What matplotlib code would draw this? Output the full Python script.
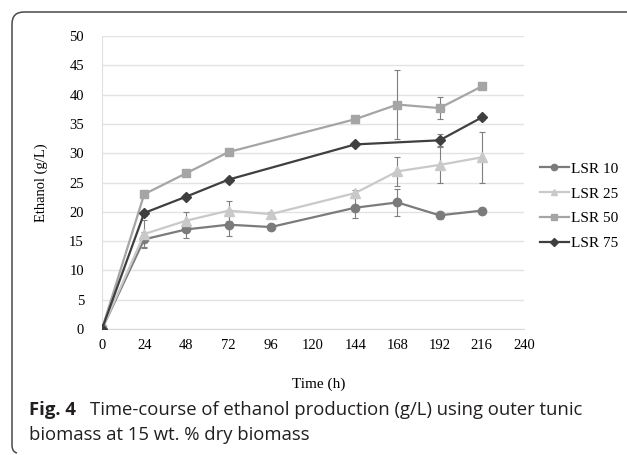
import numpy as np
import matplotlib
matplotlib.use("Agg")
import matplotlib.pyplot as plt
from matplotlib.path import Path
from matplotlib.patches import PathPatch
from matplotlib.transforms import IdentityTransform

# Data
time_h = [0, 24, 48, 72, 96, 144, 168, 192, 216]
nan = np.nan

lsr10 = [0, 15.3, 17.0, 17.8, 17.4, 20.7, 21.6, 19.4, 20.2]
lsr10_err = [0, 1.3, 1.5, 2.0, 0.3, 1.7, 2.3, 0.6, 0.3]

lsr25 = [0, 16.2, 18.5, 20.2, 19.6, 23.2, 26.9, 28.0, 29.3]
lsr25_err = [0, 2.4, 1.5, 1.7, 0.3, 0.5, 2.5, 3.0, 4.3]

lsr50 = [0, 23.0, 26.6, 30.2, nan, 35.8, 38.3, 37.7, 41.4]
lsr50_err = [0, 0.4, 0.4, 0.3, nan, 0.4, 5.9, 1.9, 0.4]

lsr75 = [0, 19.8, 22.6, 25.5, nan, 31.5, nan, 32.2, 36.1]
lsr75_err = [0, 0.5, 0.5, 0.3, nan, 0.3, nan, 1.0, 0.4]

labels = ["LSR 10", "LSR 25", "LSR 50", "LSR 75"]
x_ticks = [0, 24, 48, 72, 96, 120, 144, 168, 192, 216, 240]
y_ticks = [0, 5, 10, 15, 20, 25, 30, 35, 40, 45, 50]

W, H = 627, 455
fig = plt.figure(figsize=(W / 100, H / 100), dpi=100)
ax = fig.add_axes([102 / W, 1 - 329 / H, (524 - 102) / W, (329 - 36) / H])

serif = ["Liberation Serif", "DejaVu Serif"]
fs = 10.5

# colour, marker, size in plot, size in legend
series = [
    (lsr10, lsr10_err, "#7b7b7b", "o", 6, 4.5),
    (lsr25, lsr25_err, "#c9c9c9", "^", 6.5, 4.5),
    (lsr50, lsr50_err, "#a5a5a5", "s", 5.8, 4.2),
    (lsr75, lsr75_err, "#3f3f3f", "D", 4.8, 3.6),
]

t = np.array(time_h, dtype=float)
for (vals, err, col, mk, ms, _), lab in zip(series, labels):
    v = np.array(vals, dtype=float)
    e = np.array(err, dtype=float)
    ok = ~np.isnan(v)
    ax.errorbar(t[ok], v[ok], yerr=e[ok], fmt="none", ecolor="#7f7f7f",
                elinewidth=0.8, capsize=2.5, capthick=0.8, zorder=2)
    ax.plot(t[ok], v[ok], color=col, marker=mk, markersize=ms, lw=1.6,
            label=lab, zorder=3)

ax.set_xlim(0, 240)
ax.set_ylim(0, 50)
ax.set_xticks(x_ticks)
ax.set_yticks(y_ticks)
ax.grid(axis="y", color="#e3e3e3", lw=1)
ax.set_axisbelow(True)
for s in ["top", "right"]:
    ax.spines[s].set_visible(False)
ax.spines["left"].set_color("#e0e0e0")
ax.spines["bottom"].set_color("#d9d9d9")
ax.tick_params(length=0, labelsize=fs)
ax.tick_params(axis="y", pad=13)
ax.tick_params(axis="x", pad=7)
for lbl in ax.get_xticklabels() + ax.get_yticklabels():
    lbl.set_family(serif)

ax.set_xlabel("Time (h)", family=serif, fontsize=11, labelpad=8)
ax.xaxis.set_label_coords((319 - 102) / (524 - 102), -(378 - 329) / (329 - 36))
ax.set_ylabel("Ethanol (g/L)", family=serif, fontsize=10.5)
ax.yaxis.set_label_coords(-(102 - 48) / (524 - 102), 0.5)

leg = ax.legend(loc="center left", bbox_to_anchor=(532 / W, 1 - 206 / H),
                bbox_transform=fig.transFigure, frameon=False, borderpad=0,
                prop={"family": serif, "size": 11}, handlelength=1.9,
                labelspacing=0.72, handletextpad=0.15)
for h, s in zip(leg.legend_handles, series):
    h.set_markersize(s[5])

# caption
cap_col = "#231f20"
fig.text(29 / W, 1 - 415 / H, "Fig. 4", fontsize=13.3, va="baseline",
         family="Open Sans", weight="bold", color=cap_col)
fig.text(90 / W, 1 - 415 / H, "Time-course of ethanol production (g/L) using outer tunic",
         fontsize=13.3, va="baseline", family="Open Sans", color=cap_col)
fig.text(29 / W, 1 - 440 / H, "biomass at 15 wt. % dry biomass",
         fontsize=13.3, va="baseline", family="Open Sans", color=cap_col)

# frame: top edge and left edge with rounded corners (pixel coords, y up)
top, left, r = H - 12, 12, 12
verts = [(W + 5, top), (left + r, top), (left, top), (left, top - r),
         (left, 10), (left, 3), (left + 5, 2)]
codes = [Path.MOVETO, Path.LINETO, Path.CURVE3, Path.CURVE3,
         Path.LINETO, Path.CURVE3, Path.CURVE3]
frame = PathPatch(Path(verts, codes), fill=False, edgecolor="#4a4a4a", lw=1.1,
                  transform=IdentityTransform())
frame.set_clip_on(False)
fig.patches.append(frame)

fig.savefig("out.png", dpi=100)
